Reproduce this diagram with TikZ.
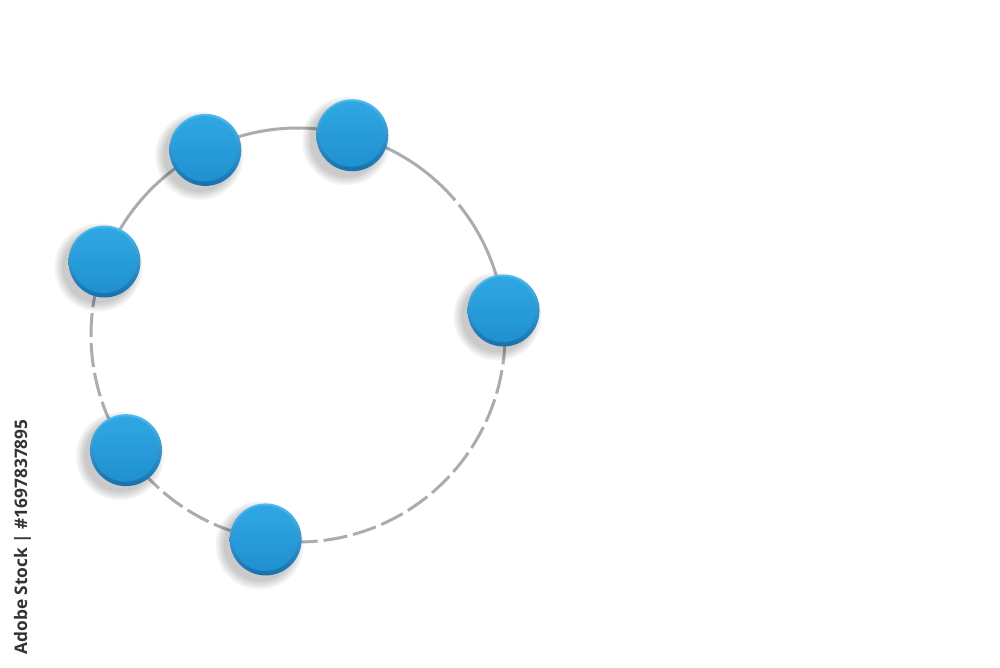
\documentclass[tikz,border=0pt]{standalone}
\usepackage{fontspec}
\setmainfont{Open Sans}
\usetikzlibrary{calc}
\definecolor{ring}{HTML}{A9ACB1}
\definecolor{btop}{HTML}{4DBBF0}
\definecolor{bbot}{HTML}{1870AC}
\definecolor{ftop}{HTML}{30A8E4}
\definecolor{fbot}{HTML}{1F8FCE}
\definecolor{wmark}{HTML}{333333}
\tikzset{
  button/.style={circle, minimum size=0.72cm, inner sep=0pt, draw=none,
    top color=btop, bottom color=bbot,
    path picture={\shade[top color=ftop, bottom color=fbot]
      ([xshift=-0.006cm,yshift=0.012cm]path picture bounding box.center) circle (0.327cm);}},
  ringline/.style={draw=ring, line width=0.85pt},
  ringdash/.style={ringline, dash pattern=on 0.24cm off 0.06cm},
  wm/.style={text=wmark, font=\fontsize{4.9}{5}\selectfont\bfseries, rotate=90, inner sep=0pt}
}
\begin{document}
\begin{tikzpicture}
\useasboundingbox[fill=white] (0,0) rectangle (10,6.67);
\coordinate (c) at (2.98,3.32);
% ring segments
\draw[ringline] ($(c)+(159.2:2.07cm)$) arc[start angle=159.2, end angle=116.6, radius=2.07cm];
\draw[ringline] ($(c)+(116.6:2.07cm)$) arc[start angle=116.6, end angle=74.8, radius=2.07cm];
\draw[ringline] ($(c)+(74.8:2.07cm)$) arc[start angle=74.8, end angle=40.6, radius=2.07cm];
\draw[ringline] ($(c)+(39.0:2.07cm)$) arc[start angle=39.0, end angle=6.8, radius=2.07cm];
\draw[ringdash] ($(c)+(6.8:2.07cm)$) arc[start angle=6.8, end angle=-99, radius=2.07cm];
\draw[ringdash] ($(c)+(261:2.07cm)$) arc[start angle=261, end angle=213.8, radius=2.07cm];
\draw[ringdash] ($(c)+(213.8:2.07cm)$) arc[start angle=213.8, end angle=159.2, radius=2.07cm];
% soft shadows
\foreach \a in {116.6,74.8,159.2,6.8,213.8,261}{
  \foreach \r in {0.44,0.42,0.40,0.38,0.36}{
    \fill[black, opacity=0.045] ($(c)+(\a:2.07cm)+(-0.06,-0.06)$) circle (\r);
  }
}
% buttons
\node[button] (n1) at ($(c)+(116.6:2.07cm)$) {};
\node[button] (n2) at ($(c)+(74.8:2.07cm)$) {};
\node[button] (n3) at ($(c)+(159.2:2.07cm)$) {};
\node[button] (n4) at ($(c)+(6.8:2.07cm)$) {};
\node[button] (n5) at ($(c)+(213.8:2.07cm)$) {};
\node[button] (n6) at ($(c)+(261:2.07cm)$) {};
% watermark
\node[wm, anchor=center] (wm) at (0.225,1.30) {\resizebox{2.35cm}{!}{Adobe Stock | \#1697837895}};
\end{tikzpicture}
\end{document}
